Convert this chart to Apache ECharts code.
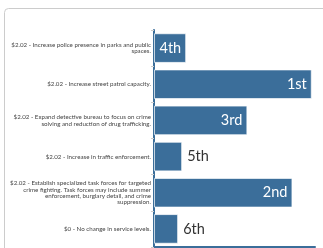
<!DOCTYPE html>
<html>
<head>
<meta charset="utf-8">
<script src="https://cdn.jsdelivr.net/npm/echarts@6/dist/echarts.min.js"></script>
<style>
html,body{margin:0;padding:0;background:#fff;}
#c{width:323px;height:248px;}
</style>
</head>
<body>
<div id="c"></div>
<script>
var categories = [
  "$2.02 - Increase police presence in parks and public\nspaces.",
  "$2.02 - Increase street patrol capacity.",
  "$2.02 - Expand detective bureau to focus on crime\nsolving and reduction of drug trafficking.",
  "$2.02 - Increase in traffic enforcement.",
  "$2.02 - Establish specialized task forces for targeted\ncrime fighting. Task forces may include summer\nenforcement, burglary detail, and crime\nsuppression.",
  "$0 - No change in service levels."
];
var scores = [20, 98, 58, 17.5, 86, 15];
var rankLabels = ["4th", "1st", "3rd", "5th", "2nd", "6th"];
var axisMax = 100;

var barColor = '#3b6e9a';
var chart = echarts.init(document.getElementById('c'), null, {renderer: 'canvas'});

var data = scores.map(function (v, i) {
  var inside = v >= 19;
  return {
    value: v,
    label: {
      show: true,
      formatter: rankLabels[i],
      position: inside ? 'insideRight' : 'right',
      distance: 5,
      color: inside ? '#ffffff' : '#333333',
      fontFamily: 'Lato',
      fontSize: 14.5
    }
  };
});

chart.setOption({
  animation: false,
  graphic: [{
    type: 'rect',
    shape: {x: 4.5, y: 8.5, width: 400, height: 300, r: 4},
    style: {fill: 'none', stroke: '#cccccc', lineWidth: 1},
    z: -1
  }],
  grid: {left: 154, right: 8, top: 30, bottom: 1, outerBoundsMode: 'none'},
  xAxis: {
    type: 'value',
    min: 0,
    max: axisMax,
    axisLine: {show: true, lineStyle: {color: barColor, width: 2}},
    axisTick: {show: false},
    axisLabel: {show: false},
    splitLine: {show: false}
  },
  yAxis: {
    type: 'category',
    inverse: true,
    data: categories,
    axisLine: {show: true, lineStyle: {color: barColor, width: 2}},
    axisTick: {show: true, length: 3, lineStyle: {color: '#cccccc'}},
    axisLabel: {
      color: '#444444',
      fontFamily: '"Liberation Sans Narrow", Lato',
      fontSize: 6.2,
      lineHeight: 6.3,
      align: 'right',
      margin: 3
    }
  },
  series: [{
    type: 'bar',
    data: data,
    barCategoryGap: '18%',
    itemStyle: {color: barColor, borderColor: 'rgba(255,255,255,0.7)', borderWidth: 1}
  }]
});
</script>
</body>
</html>
